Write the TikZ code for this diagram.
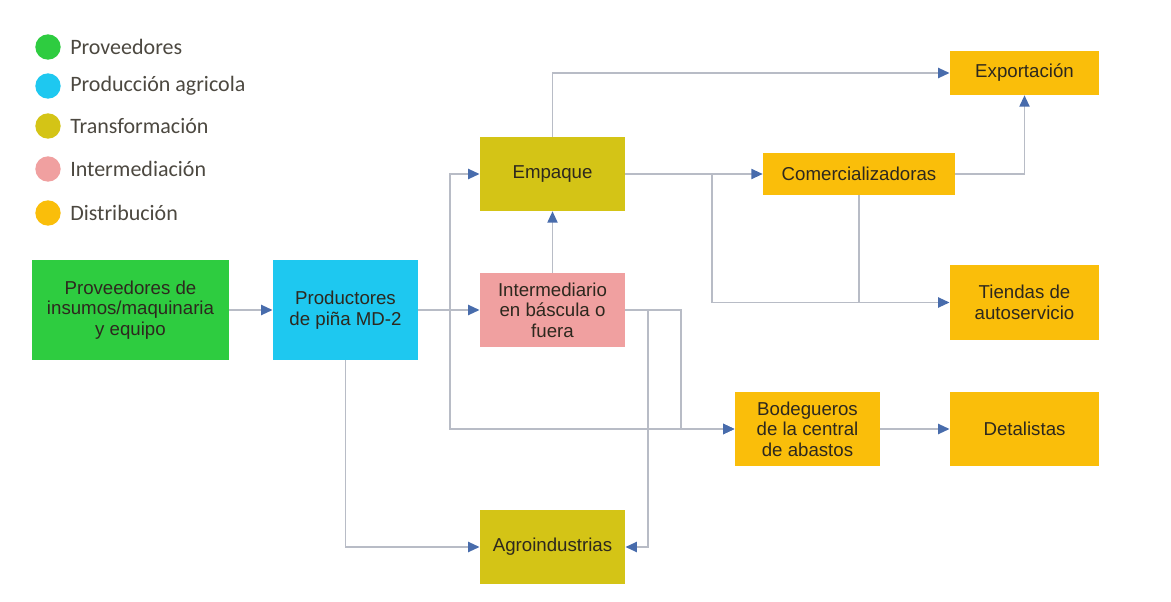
\documentclass[tikz,border=0pt]{standalone}
\usepackage{fontspec}
\setmainfont{Liberation Sans}
\newfontfamily\legendfont{Carlito}
\usetikzlibrary{arrows.meta}
\definecolor{provgreen}{RGB}{46,204,64}
\definecolor{prodcyan}{RGB}{30,200,240}
\definecolor{transolive}{RGB}{212,196,22}
\definecolor{interpink}{RGB}{240,160,160}
\definecolor{distorange}{RGB}{250,190,10}
\definecolor{linegray}{RGB}{184,188,198}
\definecolor{tipblue}{RGB}{72,108,172}
\definecolor{textdark}{RGB}{45,40,30}
\begin{document}
\begin{tikzpicture}[x=0.75pt,y=-0.75pt,
  box/.style={inner sep=0pt,align=center,text=textdark,font=\fontsize{14}{15.5}\selectfont},
  flow/.style={draw=linegray,line width=1.4pt,-{Triangle[length=8.5pt,width=7.5pt,color=tipblue]}},
  link/.style={draw=linegray,line width=1.4pt},
  dot/.style={circle,inner sep=0pt,minimum size=19pt},
  legtext/.style={anchor=west,inner sep=0pt,text=textdark!85,font=\legendfont\fontsize{16.5}{17}\selectfont}]
\useasboundingbox (0,0) rectangle (1171,602);
% legend
\foreach \n/\y/\c/\t in {a/47/provgreen/Proveedores,b/86/prodcyan/Producción agricola,c/126/transolive/Transformación,d/169/interpink/Intermediación,e/213/distorange/Distribución}{
  \node[dot,fill=\c] (leg\n) at (48,\y) {};
  \node[legtext] (legt\n) at (70,\y) {\t};
}
% boxes
\node[box,fill=provgreen,minimum width=148pt,minimum height=75pt] (prov) at (130.5,310) {Proveedores de\\insumos/maquinaria\\y equipo};
\node[box,fill=prodcyan,minimum width=109pt,minimum height=75pt] (prod) at (345.5,310) {Productores\\de piña MD-2};
\node[box,fill=transolive,minimum width=109pt,minimum height=55.5pt] (emp) at (552.5,174) {Empaque};
\node[box,fill=interpink,minimum width=109pt,minimum height=55.5pt] (inter) at (552.5,310) {Intermediario\\en báscula o\\fuera};
\node[box,fill=transolive,minimum width=109pt,minimum height=55pt] (agro) at (552.5,547) {Agroindustrias};
\node[box,fill=distorange,minimum width=112pt,minimum height=33pt] (exp) at (1024.5,73) {Exportación};
\node[box,fill=distorange,minimum width=144pt,minimum height=31pt] (com) at (859,174) {Comercializadoras};
\node[box,fill=distorange,minimum width=112pt,minimum height=56pt] (tie) at (1024.5,302.5) {Tiendas de\\autoservicio};
\node[box,fill=distorange,minimum width=109pt,minimum height=55pt] (bod) at (807.5,429) {Bodegueros\\de la central\\de abastos};
\node[box,fill=distorange,minimum width=112pt,minimum height=55pt] (det) at (1024.5,429) {Detalistas};
% junctions
\coordinate (j1) at (450,310);
\coordinate (j2) at (712,174);
\coordinate (j3) at (648,547);
\coordinate (j4) at (681,310);
% connectors
\draw[flow] (prov) -- (prod);
\draw[flow] (prod) -- (inter);
\draw[flow] (j1) |- (emp);
\draw[flow] (j1) |- (bod);
\draw[flow] (inter) -- (emp);
\draw[flow] (emp.north) |- (exp);
\draw[flow] (emp) -- (com);
\draw[flow] (j2) |- (tie);
\draw[link] (com.south) -- (com.south |- tie);
\draw[flow] (com.east) -| (exp.south);
\draw[flow] (inter.east) -| (j3) -- (agro.east);
\draw[flow] (inter.east) -- (j4) |- (bod.west);
\draw[flow] (prod.south) |- (agro);
\draw[flow] (bod) -- (det);
\end{tikzpicture}
\end{document}
